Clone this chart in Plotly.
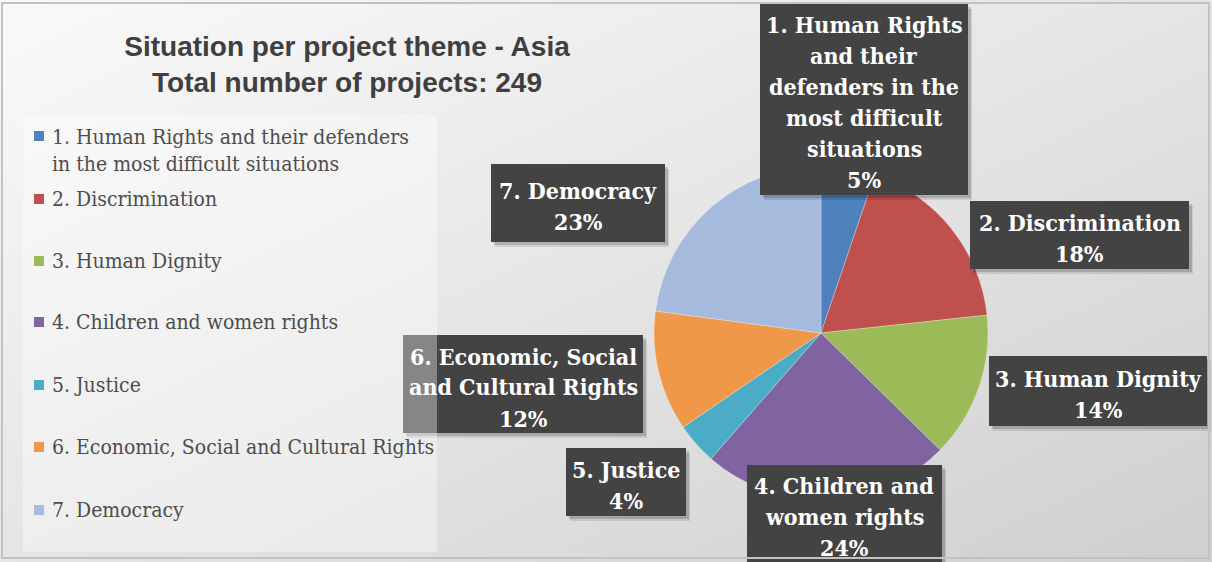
import base64
import plotly.graph_objects as go

# ---------------- data ----------------
themes = [
    "1. Human Rights and their defenders in the most difficult situations",
    "2. Discrimination",
    "3. Human Dignity",
    "4. Children and women rights",
    "5. Justice",
    "6. Economic, Social and Cultural Rights",
    "7. Democracy",
]
projects = [13, 45, 35, 60, 10, 29, 57]          # estimated counts, total 249
colors = ["#4F81BD", "#C0504D", "#9BBB59", "#8064A2", "#4BACC6", "#EF9849", "#A5BADC"]

# line-wrapped label texts (as in the picture)
label_lines = [
    ["1. Human Rights", "and their", "defenders in the", "most difficult", "situations"],
    ["2. Discrimination"],
    ["3. Human Dignity"],
    ["4. Children and", "women rights"],
    ["5. Justice"],
    ["6. Economic, Social", "and Cultural Rights"],
    ["7. Democracy"],
]
legend_lines = [
    ["1. Human Rights and their defenders", "in the most difficult situations"],
    ["2. Discrimination"],
    ["3. Human Dignity"],
    ["4. Children and women rights"],
    ["5. Justice"],
    ["6. Economic, Social and Cultural Rights"],
    ["7. Democracy"],
]
title_lines = ["Situation per project theme - Asia", "Total number of projects: 249"]

# ---------------- layout constants (pixels) ----------------
W, H = 1212, 562
def fx(x): return x / W
def fy(y): return 1 - y / H

PIE_CX, PIE_CY, PIE_R = 821, 333, 167
label_boxes = [
    (760, 4, 968, 195),
    (970, 201, 1189, 269),
    (989, 356, 1207, 426),
    (747, 465, 942, 580),
    (566, 448, 686, 516),
    (403, 335, 643, 433),
    (491, 164, 665, 242),
]
label_center_y = [102, 238, 394, 516, 485, 387, 206]
LINE_H = 31
legend_y = [151, 199, 261, 322, 385, 447, 510]
legend_marker_y = [136, 199, 261, 322, 385, 447, 510]

total = sum(projects)
pcts = [round(100 * v / total) for v in projects]

fig = go.Figure()
fig.add_trace(go.Pie(
    labels=themes, values=projects, sort=False, direction="clockwise", rotation=0,
    marker=dict(colors=colors, line=dict(color="rgba(255,255,255,0.35)", width=0.8)),
    textinfo="none", hoverinfo="label+value+percent", showlegend=False,
    domain=dict(x=[fx(PIE_CX - PIE_R), fx(PIE_CX + PIE_R)],
                y=[fy(PIE_CY + PIE_R), fy(PIE_CY - PIE_R)]),
))

shapes = []
annotations = []
SERIF = "DejaVu Serif Condensed, DejaVu Serif, serif"

# label boxes with shadows
for (x0, y0, x1, y1) in label_boxes:
    for dx, dy, a in [(4, 5, 0.10), (3, 3, 0.16)]:
        shapes.append(dict(type="rect", xref="paper", yref="paper", layer="above",
                           x0=fx(x0 + dx), x1=fx(x1 + dx), y0=fy(y1 + dy), y1=fy(y0 + dy),
                           line=dict(width=0), fillcolor=f"rgba(0,0,0,{a})"))
    shapes.append(dict(type="rect", xref="paper", yref="paper", layer="above",
                       x0=fx(x0), x1=fx(x1), y0=fy(y1), y1=fy(y0),
                       line=dict(width=0), fillcolor="#434343"))

# legend panel (semi-transparent, drawn over label 6 like the original)
shapes.append(dict(type="rect", xref="paper", yref="paper", layer="above",
                   x0=fx(23), x1=fx(437), y0=fy(552), y1=fy(115),
                   line=dict(width=0), fillcolor="rgba(255,255,255,0.36)"))

# outer frame
shapes.append(dict(type="rect", xref="paper", yref="paper", layer="above",
                   x0=fx(2), x1=fx(1209), y0=fy(558), y1=fy(3),
                   line=dict(color="#c2c2c2", width=2), fillcolor="rgba(0,0,0,0)"))

# label texts
for i, lines in enumerate(label_lines):
    x0, y0, x1, y1 = label_boxes[i]
    all_lines = lines + [f"{pcts[i]}%"]
    n = len(all_lines)
    for k, t in enumerate(all_lines):
        yc = label_center_y[i] + (k - (n - 1) / 2) * LINE_H
        annotations.append(dict(text=t, xref="paper", yref="paper",
                                x=fx((x0 + x1) / 2), y=fy(yc), xanchor="center", yanchor="middle",
                                showarrow=False,
                                font=dict(family=SERIF, size=23, color="white", weight="bold")))

# legend items
for i, lines in enumerate(legend_lines):
    ym = legend_marker_y[i]
    shapes.append(dict(type="rect", xref="paper", yref="paper", layer="above",
                       x0=fx(34), x1=fx(44), y0=fy(ym + 5), y1=fy(ym - 5),
                       line=dict(width=0), fillcolor=colors[i]))
    annotations.append(dict(text="<br>".join(lines), xref="paper", yref="paper",
                            x=fx(50), y=fy(legend_y[i]), xanchor="left", yanchor="middle",
                            align="left", showarrow=False,
                            font=dict(family=SERIF, size=21, color="#4d4d4d")))

# gradient background via inline svg
svg = ('<svg xmlns="http://www.w3.org/2000/svg" width="1212" height="562" preserveAspectRatio="none">'
       '<defs><linearGradient id="g" x1="0" y1="0" x2="1" y2="1">'
       '<stop offset="0" stop-color="#fafafa"/><stop offset="0.5" stop-color="#e5e5e5"/>'
       '<stop offset="1" stop-color="#cfcfcf"/></linearGradient></defs>'
       '<rect width="1212" height="562" fill="url(#g)"/></svg>')
src = "data:image/svg+xml;base64," + base64.b64encode(svg.encode()).decode()

fig.update_layout(
    width=W, height=H, margin=dict(l=0, r=0, t=0, b=0),
    paper_bgcolor="#e4e4e4", plot_bgcolor="rgba(0,0,0,0)",
    title=dict(text="<br>".join(title_lines), x=fx(347), xanchor="center",
               y=fy(56), yanchor="middle", xref="paper", yref="container",
               font=dict(family="Liberation Sans, Arial, sans-serif", size=28, color="#3f3f3f",
                         weight="bold")),
    images=[dict(source=src, xref="paper", yref="paper", x=0, y=1, sizex=1, sizey=1,
                 sizing="stretch", layer="below", xanchor="left", yanchor="top")],
    shapes=shapes, annotations=annotations, showlegend=False,
)
fig.write_html("out.html", config={"displayModeBar": False},
               post_script="document.body.style.margin='0px';")
